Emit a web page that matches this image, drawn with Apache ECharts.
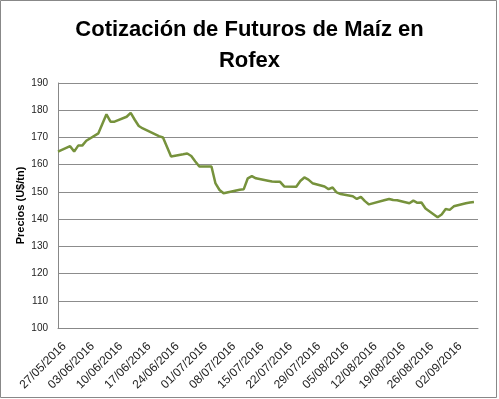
<!DOCTYPE html>
<html>
<head>
<meta charset="utf-8">
<script src="https://cdn.jsdelivr.net/npm/echarts@6/dist/echarts.min.js"></script>
<style>
html,body{margin:0;padding:0;background:#fff;}
#chart{width:499px;height:399px;}
</style>
</head>
<body>
<div id="chart"></div>
<script>
var titleText = 'Cotización de Futuros de Maíz en\nRofex';
var yAxisName = 'Precios (U$/tn)';
var startDate = '27/05/2016';
var dates = [
'27/05/2016','30/05/2016','31/05/2016','01/06/2016','02/06/2016','03/06/2016',
'06/06/2016','07/06/2016','08/06/2016','09/06/2016','10/06/2016',
'13/06/2016','14/06/2016','15/06/2016','16/06/2016','17/06/2016',
'21/06/2016','22/06/2016','23/06/2016','24/06/2016',
'27/06/2016','28/06/2016','29/06/2016','30/06/2016','01/07/2016',
'04/07/2016','05/07/2016','06/07/2016','07/07/2016',
'11/07/2016','12/07/2016','13/07/2016','14/07/2016','15/07/2016',
'18/07/2016','19/07/2016','20/07/2016','21/07/2016','22/07/2016',
'25/07/2016','26/07/2016','27/07/2016','28/07/2016','29/07/2016',
'01/08/2016','02/08/2016','03/08/2016','04/08/2016','05/08/2016',
'08/08/2016','09/08/2016','10/08/2016','11/08/2016','12/08/2016',
'16/08/2016','17/08/2016','18/08/2016','19/08/2016',
'22/08/2016','23/08/2016','24/08/2016','25/08/2016','26/08/2016',
'29/08/2016','30/08/2016','31/08/2016','01/09/2016','02/09/2016',
'05/09/2016','06/09/2016','07/09/2016'
];
var prices = [
164.8,166.8,164.8,167.0,167.0,168.8,
171.5,175.0,178.5,175.8,175.8,
177.6,179.0,176.5,174.2,173.3,
170.5,170.0,166.5,163.0,
163.8,164.1,163.2,161.2,159.3,
159.3,153.1,150.7,149.5,
150.8,151.0,155.0,155.8,155.0,
154.1,153.8,153.7,153.7,152.0,
151.9,154.0,155.3,154.5,153.2,
152.0,151.0,151.6,149.8,149.2,
148.4,147.4,148.2,146.6,145.4,
147.0,147.4,147.0,146.9,
145.8,146.8,146.0,146.1,143.9,
140.7,141.7,143.7,143.4,144.7,
145.8,146.1,146.3
];
var yMin = 100, yMax = 190, yStep = 10;
var xStepDays = 7, xMaxDays = 104;

function parseD(s){ var p = s.split('/'); return Date.UTC(+p[2], +p[1]-1, +p[0]); }
var DAY = 86400000;
var t0 = parseD(startDate);
function fmt(off){
  var d = new Date(t0 + off*DAY);
  var dd = ('0'+d.getUTCDate()).slice(-2), mm = ('0'+(d.getUTCMonth()+1)).slice(-2);
  return dd + '/' + mm + '/' + d.getUTCFullYear();
}
var seriesData = dates.map(function(s,i){ return [Math.round((parseD(s)-t0)/DAY), prices[i]]; });

var chart = echarts.init(document.getElementById('chart'), null, {renderer:'canvas'});
chart.setOption({
  animation: false,
  backgroundColor: '#fff',
  title: {
    text: titleText,
    left: 'center',
    top: 9,
    textStyle: {fontFamily: 'Liberation Sans', fontWeight: 'bold', fontSize: 22, lineHeight: 31, color: '#000'}
  },
  graphic: [{
    type: 'rect', silent: true,
    shape: {x: 0.5, y: 0.5, width: 496, height: 397},
    style: {fill: 'none', stroke: '#888', lineWidth: 1}
  }],
  grid: {left: 58, right: 21, top: 83, bottom: 71, containLabel: false},
  xAxis: {
    type: 'value',
    min: 0, max: xMaxDays, interval: xStepDays,
    axisLine: {show: true, lineStyle: {color: '#888', width: 1}},
    axisTick: {show: false},
    splitLine: {show: false},
    axisLabel: {
      rotate: 45, margin: 10, showMaxLabel: false,
      align: 'right', verticalAlign: 'top', lineHeight: 18,
      fontFamily: 'Liberation Sans', fontSize: 12, color: '#222',
      formatter: function(v){ return (v % xStepDays === 0) ? fmt(v) : ''; }
    }
  },
  yAxis: {
    type: 'value',
    min: yMin, max: yMax, interval: yStep,
    name: yAxisName, nameLocation: 'middle', nameGap: 32, nameRotate: 90,
    nameMoveOverlap: false,
    nameTextStyle: {fontFamily: 'Liberation Sans', fontWeight: 'bold', fontSize: 11, color: '#000'},
    axisLine: {show: true, lineStyle: {color: '#888', width: 1}},
    axisTick: {show: false},
    splitLine: {show: true, lineStyle: {color: '#8c8c8c', width: 1}},
    axisLabel: {margin: 10, fontFamily: 'Liberation Sans', fontSize: 10, color: '#222'}
  },
  series: [{
    type: 'line',
    data: seriesData,
    showSymbol: false,
    symbol: 'none',
    lineStyle: {color: '#76923C', width: 2.5},
    itemStyle: {color: '#76923C'}
  }]
});
</script>
</body>
</html>
